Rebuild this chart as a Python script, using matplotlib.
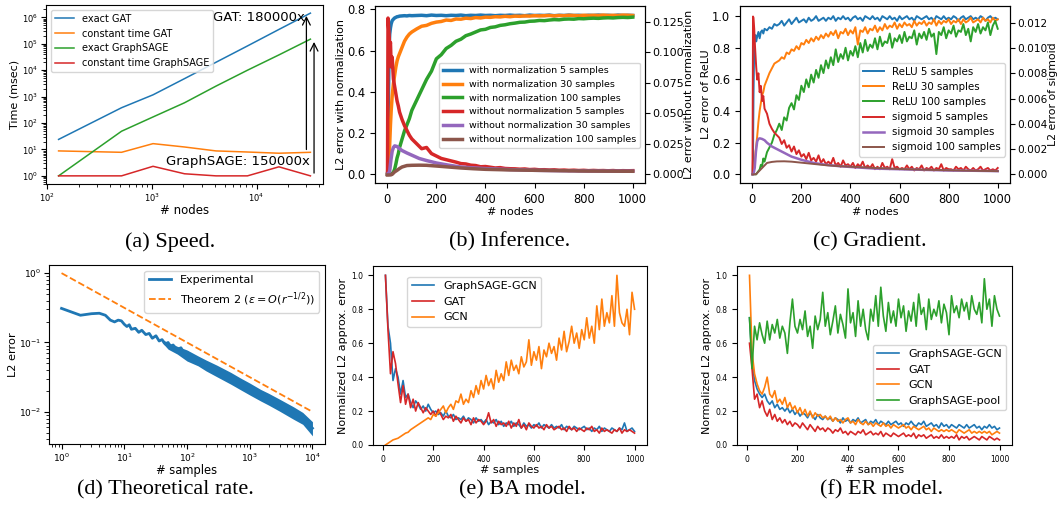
import matplotlib
matplotlib.use('Agg')
import matplotlib.pyplot as plt
from matplotlib.ticker import MultipleLocator, FormatStrFormatter
import numpy as np

W, H = 1060, 514

# ---- (a) speed ----
nodes_a = [128, 512, 1024, 2048, 4096, 8192, 16384, 32768]
exact_gat = [24, 380, 1170, 4800, 20000, 83000, 350000, 1450000]
const_gat = [8.8, 7.8, 16.6, 12.4, 8.8, 8.0, 7.2, 7.8]
exact_sage = [1.0, 49, 170, 585, 2500, 10000, 38000, 150000]
const_sage = [1.0, 1.0, 2.3, 1.2, 1.0, 1.0, 2.2, 1.0]

# ---- (b) inference ----
x_b = [1, 3, 5, 8, 10, 13, 16, 20, 25, 30, 35, 40, 45, 50, 60, 70, 80, 90, 100] + list(range(120, 1001, 20))
norm5_b = [0.0, 0.05, 0.4, 0.63, 0.68, 0.71, 0.73, 0.745, 0.752, 0.758, 0.761, 0.764, 0.765, 0.767, 0.768, 0.769, 0.768, 0.770, 0.769,
           0.770, 0.771, 0.769, 0.772, 0.770, 0.771, 0.769, 0.771, 0.770,
           0.772, 0.769, 0.771, 0.770, 0.772, 0.770, 0.771, 0.769, 0.771,
           0.770, 0.772, 0.770, 0.771, 0.769, 0.772, 0.770, 0.771, 0.770,
           0.772, 0.769, 0.771, 0.770, 0.772, 0.770, 0.771, 0.769, 0.771,
           0.770, 0.772, 0.770, 0.771, 0.769, 0.772, 0.770, 0.771, 0.770]
norm30_b = [0.0, 0.0, 0.02, 0.1, 0.15, 0.24, 0.31, 0.38, 0.44, 0.48, 0.52, 0.55, 0.57, 0.585, 0.615, 0.645, 0.665, 0.68, 0.69,
            0.705, 0.718, 0.722, 0.732, 0.738, 0.741, 0.748, 0.746, 0.753,
            0.752, 0.757, 0.755, 0.760, 0.758, 0.762, 0.761, 0.764, 0.763,
            0.766, 0.764, 0.767, 0.766, 0.768, 0.767, 0.769, 0.768, 0.769,
            0.770, 0.768, 0.770, 0.769, 0.771, 0.770, 0.769, 0.771, 0.770,
            0.771, 0.770, 0.772, 0.770, 0.771, 0.770, 0.772, 0.771, 0.770]
norm100_b = [0.0, 0.0, 0.0, 0.0, 0.0, 0.0, 0.0, 0.005, 0.01, 0.025, 0.05, 0.08, 0.1, 0.13, 0.17, 0.21, 0.24, 0.27, 0.31,
             0.36, 0.41, 0.46, 0.5, 0.56, 0.58, 0.61, 0.625, 0.645,
             0.655, 0.672, 0.68, 0.69, 0.7, 0.703, 0.712, 0.715, 0.722,
             0.725, 0.73, 0.733, 0.737, 0.738, 0.742, 0.743, 0.746, 0.745,
             0.748, 0.75, 0.749, 0.752, 0.753, 0.752, 0.755, 0.754, 0.756,
             0.757, 0.756, 0.758, 0.759, 0.758, 0.760, 0.761, 0.760, 0.762]
raw5_b = [0.0, 0.128, 0.122, 0.112, 0.104, 0.108, 0.088, 0.096, 0.078, 0.072, 0.066, 0.06, 0.056, 0.051, 0.045, 0.04, 0.036, 0.032, 0.029,
          0.025, 0.021, 0.022, 0.017, 0.015, 0.013, 0.012, 0.011, 0.010,
          0.0088, 0.0085, 0.0075, 0.0072, 0.0062, 0.0064, 0.0058, 0.0052, 0.0055,
          0.0048, 0.0046, 0.0045, 0.0042, 0.0044, 0.0039, 0.0041, 0.0037, 0.0038,
          0.0035, 0.0037, 0.0033, 0.0035, 0.0032, 0.0034, 0.0031, 0.0033, 0.0030,
          0.0032, 0.0030, 0.0031, 0.0029, 0.0031, 0.0028, 0.0030, 0.0029, 0.0030]
x_smooth = [1, 5, 10, 15, 20, 25, 30, 40, 50, 60, 80, 100, 130, 160, 200, 250, 300, 350, 400, 500, 600, 700, 800, 900, 1000]
raw30_b = [0.0, 0.0, 0.003, 0.012, 0.019, 0.022, 0.0233, 0.0228, 0.021, 0.0195, 0.0175, 0.0157, 0.013, 0.0113, 0.0093,
           0.0075, 0.006, 0.0053, 0.0047, 0.0039, 0.0033, 0.003, 0.0028, 0.0027, 0.0026]
raw100_b = [-0.0005, -0.0005, -0.0005, -0.0004, 0.0, 0.001, 0.002, 0.0033, 0.0048, 0.006, 0.0072, 0.0074, 0.0075, 0.0074,
            0.0068, 0.006, 0.0052, 0.0046, 0.0041, 0.0036, 0.0033, 0.003, 0.0027, 0.0026, 0.0025]

# ---- (c) gradient ----
x_c = [1, 3, 5, 8, 10, 13, 16, 20, 25, 30, 35, 40, 45, 50, 60, 70, 80, 90, 100] + list(range(110, 1001, 10))
relu5 = [0, 0.1, 0.5, 0.82, 0.86, 0.88, 0.84, 0.87, 0.9, 0.86, 0.9, 0.91, 0.89, 0.92, 0.91, 0.93, 0.92, 0.95, 0.94,
         0.95, 0.97, 0.94, 0.96, 0.98, 0.95, 0.97, 0.99, 0.96, 0.97,
         0.98, 0.96, 0.99, 0.97, 0.98, 1.0, 0.97, 0.98, 0.99, 0.97,
         0.99, 0.98, 1.0, 0.97, 0.99, 0.98, 1.0, 0.98, 0.99, 0.97,
         0.99, 1.0, 0.98, 0.99, 0.97, 1.0, 0.99, 0.98, 1.0, 0.98,
         0.99, 0.97, 1.0, 0.99, 0.98, 1.0, 0.98, 0.99, 0.97, 1.0,
         0.98, 0.99, 1.0, 0.98, 0.99, 0.97, 1.0, 0.99, 0.98, 0.99,
         1.0, 0.98, 0.99, 0.97, 1.0, 0.99, 0.98, 1.0, 0.98, 0.99,
         0.98, 1.0, 0.99, 0.97, 0.99, 1.0, 0.98, 0.99, 1.0, 0.98,
         0.99, 0.98, 1.0, 0.99, 0.97, 0.99, 1.0, 0.98, 0.99, 0.98]
relu30 = [0, 0, 0.02, 0.05, 0.08, 0.14, 0.18, 0.24, 0.33, 0.4, 0.45, 0.5, 0.52, 0.56, 0.6, 0.64, 0.67, 0.7, 0.71,
          0.72, 0.74, 0.73, 0.77, 0.76, 0.79, 0.78, 0.81, 0.79, 0.83,
          0.82, 0.85, 0.83, 0.86, 0.84, 0.87, 0.85, 0.88, 0.86, 0.89,
          0.87, 0.90, 0.88, 0.91, 0.86, 0.90, 0.89, 0.92, 0.88, 0.91,
          0.89, 0.93, 0.82, 0.91, 0.90, 0.93, 0.89, 0.92, 0.91, 0.94,
          0.90, 0.93, 0.91, 0.95, 0.92, 0.94, 0.93, 0.96, 0.92, 0.95,
          0.93, 0.96, 0.94, 0.95, 0.93, 0.97, 0.94, 0.96, 0.95, 0.97,
          0.94, 0.96, 0.95, 0.98, 0.94, 0.97, 0.95, 0.97, 0.96, 0.98,
          0.95, 0.97, 0.96, 0.98, 0.95, 0.98, 0.96, 0.97, 0.99, 0.96,
          0.97, 0.98, 0.96, 0.99, 0.97, 0.98, 0.96, 0.99, 0.97, 0.98]
relu100 = [0, 0, 0, 0, 0, 0, 0, 0.01, 0.02, 0.03, 0.06, 0.05, 0.1, 0.08, 0.14, 0.17, 0.2, 0.25, 0.28,
           0.32, 0.28, 0.36, 0.34, 0.42, 0.45, 0.41, 0.5, 0.47, 0.56,
           0.52, 0.6, 0.55, 0.63, 0.58, 0.66, 0.61, 0.69, 0.64, 0.72,
           0.67, 0.74, 0.69, 0.79, 0.71, 0.76, 0.73, 0.8, 0.72, 0.78,
           0.75, 0.81, 0.74, 0.83, 0.77, 0.85, 0.78, 0.82, 0.8, 0.86,
           0.79, 0.87, 0.81, 0.84, 0.83, 0.89, 0.8, 0.86, 0.84, 0.88,
           0.83, 0.9, 0.84, 0.87, 0.86, 0.91, 0.82, 0.89, 0.86, 0.9,
           0.85, 0.92, 0.87, 0.89, 0.76, 0.9, 0.88, 0.93, 0.86, 0.91,
           0.89, 0.94, 0.87, 0.91, 0.9, 0.95, 0.88, 0.92, 0.84, 0.93,
           0.9, 0.95, 0.89, 0.93, 0.91, 0.96, 0.88, 0.94, 0.97, 0.92]
sig5 = [0.0, 0.0125, 0.0124, 0.0115, 0.0105, 0.0095, 0.0085, 0.0075, 0.008, 0.0065, 0.007, 0.0058, 0.0062, 0.0052, 0.0048, 0.0040, 0.0036, 0.0033, 0.0031,
        0.0029, 0.0024, 0.0027, 0.0021, 0.0023, 0.0018, 0.0022, 0.0016, 0.0019, 0.0014,
        0.0016, 0.0012, 0.0017, 0.0011, 0.0013, 0.0010, 0.0015, 0.0009, 0.0012, 0.0008,
        0.0010, 0.0008, 0.0013, 0.0007, 0.0009, 0.0006, 0.0011, 0.0007, 0.0008, 0.0006,
        0.0009, 0.0005, 0.0008, 0.0006, 0.0010, 0.0005, 0.0007, 0.0005, 0.0008, 0.0004,
        0.0006, 0.0004, 0.0009, 0.0005, 0.0006, 0.0004, 0.0012, 0.0005, 0.0006, 0.0004,
        0.0005, 0.0004, 0.0007, 0.0004, 0.0006, 0.0003, 0.0005, 0.0004, 0.0007, 0.0003,
        0.0005, 0.0004, 0.0006, 0.0003, 0.0005, 0.0004, 0.0008, 0.0003, 0.0005, 0.0004,
        0.0004, 0.0003, 0.0006, 0.0004, 0.0005, 0.0003, 0.0006, 0.0004, 0.0003, 0.0005,
        0.0003, 0.0004, 0.0006, 0.0003, 0.0004, 0.0005, 0.0003, 0.0004, 0.0003, 0.0005]
sig30 = [0.0, 0.0, 0.0005, 0.0018, 0.0026, 0.0028, 0.00285, 0.0028, 0.0027, 0.0025, 0.0022, 0.002, 0.0017, 0.0014, 0.00115,
         0.0009, 0.00075, 0.00065, 0.00058, 0.00045, 0.0004, 0.00035, 0.0003, 0.00028, 0.00025]
sig100 = [0.0, 0.0, 0.0, 0.0, 0.0001, 0.0002, 0.0003, 0.0005, 0.0007, 0.0009, 0.00098, 0.00102, 0.00103, 0.001, 0.00092,
          0.00082, 0.00072, 0.00065, 0.0006, 0.0005, 0.00042, 0.00036, 0.00032, 0.00028, 0.00025]

# ---- (d) theoretical rate ----
samples_d = [1, 2, 3, 4, 5, 6, 7, 8, 9, 10, 11, 12, 13, 15, 17, 19, 22, 25, 28, 32, 36, 40, 45, 50, 55, 60, 70, 80, 90, 100,
             150, 200, 300, 500, 700, 1000, 1500, 2000, 3000, 5000, 7000, 10000]
exp_d = [0.31, 0.247, 0.26, 0.264, 0.247, 0.21, 0.198, 0.21, 0.205, 0.183, 0.17, 0.18, 0.155, 0.16, 0.14, 0.15, 0.13, 0.135,
         0.115, 0.125, 0.105, 0.11, 0.095, 0.1, 0.085, 0.092, 0.078, 0.084, 0.07, 0.072,
         0.054, 0.047, 0.04, 0.031, 0.027, 0.021, 0.017, 0.0155, 0.0128, 0.0097, 0.0082, 0.0058]
band_x = [40, 50, 70, 100, 150, 200, 300, 500, 700, 1000, 1500, 2000, 3000, 5000, 7000, 10000]
band_lo = [0.1, 0.08, 0.068, 0.054, 0.046, 0.039, 0.032, 0.025, 0.021, 0.0175, 0.0143, 0.0125, 0.0102, 0.0078, 0.0066, 0.0045]
band_hi = [0.11, 0.1, 0.088, 0.078, 0.064, 0.056, 0.047, 0.037, 0.031, 0.026, 0.021, 0.0185, 0.0152, 0.0118, 0.0098, 0.0072]
theorem_x = [1, 10000]
theorem_y = [1.0, 0.01]

# ---- (e) BA model / (f) ER model ----
samples_ef = list(range(10, 1001, 10))
ba_sage = [1.0, 0.7, 0.6, 0.38, 0.45, 0.4, 0.3, 0.38, 0.28, 0.3,
           0.25, 0.22, 0.26, 0.24, 0.21, 0.23, 0.2, 0.24, 0.21, 0.19,
           0.2, 0.18, 0.19, 0.17, 0.2, 0.17, 0.16, 0.18, 0.15, 0.16,
           0.15, 0.17, 0.14, 0.16, 0.15, 0.13, 0.16, 0.14, 0.15, 0.13,
           0.15, 0.12, 0.14, 0.13, 0.15, 0.12, 0.14, 0.11, 0.13, 0.12,
           0.14, 0.11, 0.13, 0.12, 0.1, 0.13, 0.11, 0.12, 0.1, 0.12,
           0.11, 0.13, 0.1, 0.12, 0.11, 0.1, 0.12, 0.1, 0.11, 0.1,
           0.12, 0.09, 0.11, 0.1, 0.09, 0.11, 0.1, 0.09, 0.1, 0.11,
           0.09, 0.1, 0.08, 0.1, 0.09, 0.11, 0.08, 0.1, 0.09, 0.08,
           0.1, 0.09, 0.08, 0.1, 0.09, 0.13, 0.08, 0.09, 0.1, 0.08]
ba_gat = [1.0, 0.68, 0.42, 0.55, 0.48, 0.36, 0.25, 0.35, 0.24, 0.3,
          0.22, 0.27, 0.2, 0.25, 0.22, 0.19, 0.22, 0.2, 0.18, 0.2,
          0.17, 0.21, 0.18, 0.15, 0.17, 0.16, 0.18, 0.14, 0.17, 0.15,
          0.13, 0.16, 0.14, 0.15, 0.12, 0.16, 0.13, 0.15, 0.14, 0.12,
          0.14, 0.19, 0.13, 0.15, 0.11, 0.14, 0.12, 0.13, 0.11, 0.14,
          0.1, 0.13, 0.11, 0.15, 0.1, 0.12, 0.09, 0.13, 0.11, 0.1,
          0.12, 0.1, 0.11, 0.09, 0.12, 0.1, 0.11, 0.09, 0.1, 0.11,
          0.09, 0.1, 0.08, 0.11, 0.09, 0.1, 0.08, 0.1, 0.09, 0.08,
          0.1, 0.09, 0.11, 0.08, 0.09, 0.07, 0.1, 0.08, 0.09, 0.08,
          0.07, 0.09, 0.08, 0.1, 0.07, 0.09, 0.08, 0.09, 0.08, 0.07]
ba_gcn = [0.0, 0.01, 0.02, 0.03, 0.035, 0.04, 0.05, 0.06, 0.07, 0.075,
          0.09, 0.1, 0.11, 0.12, 0.13, 0.14, 0.15, 0.16, 0.15, 0.18,
          0.17, 0.19, 0.21, 0.23, 0.19, 0.22, 0.24, 0.21, 0.26, 0.25,
          0.3, 0.24, 0.27, 0.25, 0.32, 0.28, 0.35, 0.3, 0.38, 0.33,
          0.41, 0.35, 0.39, 0.33, 0.44, 0.37, 0.42, 0.38, 0.49, 0.41,
          0.5, 0.44, 0.47, 0.42, 0.52, 0.46, 0.49, 0.62, 0.47, 0.55,
          0.5, 0.58, 0.45, 0.56, 0.52, 0.6, 0.54, 0.58, 0.5, 0.63,
          0.56, 0.67, 0.55, 0.61, 0.7, 0.6, 0.66, 0.57, 0.68, 0.62,
          0.75, 0.63, 0.7, 0.6, 0.82, 0.68, 0.86, 0.7, 0.78, 0.72,
          0.88, 0.7, 1.0, 0.78, 0.72, 0.7, 0.8, 0.65, 0.9, 0.8]
er_sage = [0.75, 0.5, 0.38, 0.33, 0.3, 0.28, 0.3, 0.26, 0.24, 0.26,
           0.22, 0.24, 0.21, 0.22, 0.2, 0.22, 0.19, 0.21, 0.18, 0.2,
           0.17, 0.19, 0.18, 0.16, 0.19, 0.17, 0.15, 0.18, 0.16, 0.15,
           0.17, 0.15, 0.16, 0.14, 0.16, 0.15, 0.13, 0.16, 0.14, 0.15,
           0.13, 0.15, 0.14, 0.16, 0.13, 0.14, 0.15, 0.12, 0.14, 0.13,
           0.15, 0.12, 0.14, 0.13, 0.12, 0.14, 0.12, 0.13, 0.14, 0.12,
           0.13, 0.11, 0.13, 0.12, 0.14, 0.12, 0.11, 0.13, 0.12, 0.14,
           0.11, 0.12, 0.13, 0.11, 0.12, 0.1, 0.13, 0.11, 0.12, 0.1,
           0.12, 0.11, 0.1, 0.12, 0.11, 0.1, 0.12, 0.1, 0.11, 0.12,
           0.1, 0.11, 0.09, 0.11, 0.1, 0.12, 0.1, 0.11, 0.09, 0.1]
er_gat = [0.6, 0.45, 0.27, 0.3, 0.22, 0.26, 0.2, 0.17, 0.21, 0.15,
          0.18, 0.14, 0.16, 0.13, 0.15, 0.12, 0.14, 0.11, 0.13, 0.12,
          0.1, 0.13, 0.11, 0.09, 0.12, 0.1, 0.08, 0.11, 0.09, 0.1,
          0.08, 0.1, 0.09, 0.07, 0.09, 0.08, 0.1, 0.07, 0.08, 0.06,
          0.08, 0.07, 0.06, 0.08, 0.07, 0.09, 0.06, 0.07, 0.08, 0.06,
          0.07, 0.06, 0.08, 0.05, 0.07, 0.06, 0.05, 0.07, 0.06, 0.05,
          0.06, 0.07, 0.05, 0.06, 0.05, 0.07, 0.04, 0.06, 0.05, 0.06,
          0.04, 0.05, 0.06, 0.04, 0.05, 0.04, 0.06, 0.04, 0.05, 0.04,
          0.05, 0.04, 0.06, 0.03, 0.05, 0.04, 0.05, 0.03, 0.04, 0.05,
          0.04, 0.03, 0.05, 0.04, 0.03, 0.05, 0.04, 0.03, 0.04, 0.03]
er_gcn = [1.0, 0.55, 0.42, 0.36, 0.32, 0.3, 0.34, 0.4, 0.3, 0.28,
          0.32, 0.25, 0.27, 0.24, 0.28, 0.22, 0.25, 0.21, 0.23, 0.19,
          0.22, 0.18, 0.21, 0.17, 0.2, 0.16, 0.19, 0.17, 0.18, 0.16,
          0.17, 0.15, 0.17, 0.14, 0.16, 0.14, 0.15, 0.13, 0.15, 0.16,
          0.13, 0.14, 0.12, 0.15, 0.13, 0.12, 0.14, 0.12, 0.13, 0.11,
          0.13, 0.12, 0.11, 0.13, 0.11, 0.12, 0.1, 0.12, 0.11, 0.1,
          0.11, 0.12, 0.1, 0.11, 0.09, 0.11, 0.1, 0.09, 0.1, 0.11,
          0.09, 0.1, 0.08, 0.1, 0.09, 0.08, 0.09, 0.08, 0.09, 0.08,
          0.09, 0.08, 0.07, 0.09, 0.08, 0.07, 0.08, 0.09, 0.07, 0.08,
          0.07, 0.08, 0.07, 0.08, 0.07, 0.08, 0.06, 0.07, 0.08, 0.07]
er_pool = [0.75, 0.45, 0.7, 0.62, 0.72, 0.65, 0.6, 0.73, 0.62, 0.71,
           0.66, 0.74, 0.63, 0.7, 0.66, 0.54, 0.72, 0.86, 0.7, 0.66,
           0.74, 0.68, 0.79, 0.64, 0.7, 0.57, 0.76, 0.68, 0.74, 0.9,
           0.7, 0.78, 0.65, 0.73, 0.82, 0.66, 0.77, 0.71, 0.63, 0.92,
           0.72, 0.78, 0.64, 0.85, 0.7, 0.8, 0.68, 0.62, 0.8, 0.73,
           0.88, 0.7, 0.93, 0.76, 0.67, 0.84, 0.72, 0.79, 0.7, 0.86,
           0.75, 0.82, 0.67, 0.79, 0.73, 0.84, 0.7, 0.89, 0.77, 0.81,
           0.68, 0.86, 0.74, 0.8, 0.76, 0.85, 0.72, 0.83, 0.78, 0.65,
           0.88, 0.78, 0.82, 0.75, 0.86, 0.79, 0.84, 0.74, 0.88, 0.8,
           0.77, 0.84, 0.72, 0.98, 0.8, 0.86, 0.7, 0.88, 0.8, 0.76]

fig = plt.figure(figsize=(W / 100, H / 100), dpi=100)


def px_axes(l, t, r, b):
    # axes rectangle given in pixel coordinates (top-left origin)
    return fig.add_axes([l / W, 1 - b / H, (r - l) / W, (b - t) / H])


# (a)
ax = px_axes(46, 5, 323, 184)
ax.plot(nodes_a, exact_gat, lw=1.1, label='exact GAT')
ax.plot(nodes_a, const_gat, lw=1.1, label='constant time GAT')
ax.plot(nodes_a, exact_sage, lw=1.1, label='exact GraphSAGE')
ax.plot(nodes_a, const_sage, lw=1.1, label='constant time GraphSAGE')
ax.set_xscale('log')
ax.set_yscale('log')
ax.annotate('', xy=(30000, exact_gat[-1]), xytext=(30000, const_gat[-1]),
            arrowprops=dict(arrowstyle='->', color='black', lw=0.9, mutation_scale=14))
ax.annotate('', xy=(35500, exact_sage[-1]), xytext=(35500, const_sage[-1]),
            arrowprops=dict(arrowstyle='->', color='black', lw=0.9, mutation_scale=14))
ax.text(29000, 1.0e6, 'GAT: 180000x', ha='right', va='center', fontsize=9.5)
ax.text(32600, 3.4, 'GraphSAGE: 150000x', ha='right', va='center', fontsize=9.5)
ax.set_xlabel('# nodes', fontsize=8.5, labelpad=0)
ax.set_ylabel('Time (msec)', fontsize=8, labelpad=2)
ax.tick_params(labelsize=6, pad=2)
ax.legend(loc='upper left', fontsize=7)

# (b)
ax = px_axes(375, 6, 645, 183)
ax2 = ax.twinx()
ax.plot(x_b, norm5_b, lw=2.5, color='C0', label='with normalization 5 samples')
ax.plot(x_b, norm30_b, lw=2.5, color='C1', label='with normalization 30 samples')
ax.plot(x_b, norm100_b, lw=2.5, color='C2', label='with normalization 100 samples')
ax2.plot(x_b, raw5_b, lw=2.5, color='C3', label='without normalization 5 samples')
ax2.plot(x_smooth, raw30_b, lw=2.5, color='C4', label='without normalization 30 samples')
ax2.plot(x_smooth, raw100_b, lw=2.5, color='C5', label='without normalization 100 samples')
ax.set_ylim(-0.042, 0.816)
ax2.set_ylim(-0.0071, 0.1379)
ax2.yaxis.set_major_locator(MultipleLocator(0.025))
ax.set_xlim(-50, 1050)
ax.set_xlabel('# nodes', fontsize=8, labelpad=1)
ax.set_ylabel('L2 error with normalization', fontsize=8, labelpad=1)
ax2.set_ylabel('L2 error without normalization', fontsize=8, labelpad=0)
ax.tick_params(labelsize=8.3)
ax2.tick_params(labelsize=8.0, pad=2)
h1, l1 = ax.get_legend_handles_labels()
h2, l2 = ax2.get_legend_handles_labels()
ax2.legend(h1 + h2, l1 + l2, loc='center right', bbox_to_anchor=(1, 0.44), fontsize=6.8)

# (c)
ax = px_axes(740, 6, 1010, 183)
ax2 = ax.twinx()
ax.plot(x_c, relu5, lw=1.4, color='C0', label='ReLU 5 samples')
ax.plot(x_c, relu30, lw=1.4, color='C1', label='ReLU 30 samples')
ax.plot(x_c, relu100, lw=1.4, color='C2', label='ReLU 100 samples')
ax2.plot(x_c, sig5, lw=1.4, color='C3', label='sigmoid 5 samples')
ax2.plot(x_smooth, sig30, lw=1.8, color='C4', label='sigmoid 30 samples')
ax2.plot(x_smooth, sig100, lw=1.4, color='C5', label='sigmoid 100 samples')
ax.set_ylim(-0.055, 1.064)
ax2.set_ylim(-0.00069, 0.01333)
ax2.yaxis.set_major_locator(MultipleLocator(0.002))
ax2.yaxis.set_major_formatter(FormatStrFormatter('%.3f'))
ax.set_xlim(-50, 1050)
ax.set_xlabel('# nodes', fontsize=8, labelpad=1)
ax.set_ylabel('L2 error of ReLU', fontsize=8, labelpad=1)
ax2.set_ylabel('L2 error of sigmoid', fontsize=7.8, labelpad=0)
ax.tick_params(labelsize=8.3)
ax2.tick_params(labelsize=7.6, pad=2)
h1, l1 = ax.get_legend_handles_labels()
h2, l2 = ax2.get_legend_handles_labels()
ax2.legend(h1 + h2, l1 + l2, loc='center right', bbox_to_anchor=(1, 0.415), fontsize=7.4)

# (d)
ax = px_axes(49, 265, 325, 444)
ax.fill_between(band_x, band_lo, band_hi, color='C0', lw=0)
ax.plot(samples_d, exp_d, lw=2, color='C0', label='Experimental')
ax.plot(theorem_x, theorem_y, '--', lw=1.3, color='C1', label=r'Theorem 2 ($\epsilon=O(r^{-1/2})$)')
ax.set_xscale('log')
ax.set_yscale('log')
ax.set_xlabel('# samples', fontsize=8.3, labelpad=0)
ax.set_ylabel('L2 error', fontsize=8.2, labelpad=1)
ax.tick_params(labelsize=6.5, pad=2)
ax.legend(loc='upper right', fontsize=8)

# (e)
ax = px_axes(373, 266, 647, 445)
ax.plot(samples_ef, ba_sage, lw=1.2, color='C0', label='GraphSAGE-GCN')
ax.plot(samples_ef, ba_gat, lw=1.2, color='C3', label='GAT')
ax.plot(samples_ef, ba_gcn, lw=1.2, color='C1', label='GCN')
ax.set_ylim(0, 1.055)
ax.set_xlabel('# samples', fontsize=8, labelpad=1)
ax.set_ylabel('Normalized L2 approx. error', fontsize=8, labelpad=2)
ax.tick_params(labelsize=5.5)
ax.legend(loc='upper left', bbox_to_anchor=(0.105, 0.97), fontsize=8)

# (f)
ax = px_axes(737, 266, 1012, 445)
ax.plot(samples_ef, er_sage, lw=1.2, color='C0', label='GraphSAGE-GCN')
ax.plot(samples_ef, er_gat, lw=1.2, color='C3', label='GAT')
ax.plot(samples_ef, er_gcn, lw=1.2, color='C1', label='GCN')
ax.plot(samples_ef, er_pool, lw=1.2, color='C2', label='GraphSAGE-pool')
ax.set_ylim(0, 1.055)
ax.set_xlabel('# samples', fontsize=8, labelpad=1)
ax.set_ylabel('Normalized L2 approx. error', fontsize=8, labelpad=2)
ax.tick_params(labelsize=5.5)
ax.legend(loc='center right', bbox_to_anchor=(1, 0.377), fontsize=8)

# captions
captions = ['(a) Speed.', '(b) Inference.', '(c) Gradient.',
            '(d) Theoretical rate.', '(e) BA model.', '(f) ER model.']
cap_pos = [(170, 242), (510, 242), (870, 242), (165, 490), (522, 490), (882, 490)]
for c, (cx, cy) in zip(captions, cap_pos):
    fig.text(cx / W, 1 - cy / H, c, ha='center', va='center', fontsize=16, family='Liberation Serif')

fig.savefig('out.png', dpi=100)
